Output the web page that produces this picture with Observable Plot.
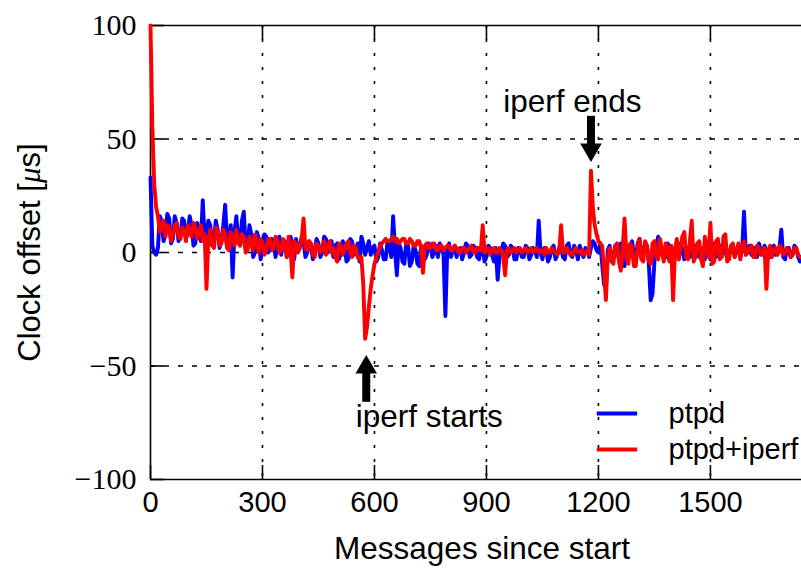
<!DOCTYPE html>
<html><head><meta charset="utf-8">
<script src="https://cdn.jsdelivr.net/npm/d3@7"></script>
<script src="https://cdn.jsdelivr.net/npm/@observablehq/plot@0.6"></script>
<style>body{margin:0;background:#fff} svg{display:block}</style>
</head><body><div id="chart"></div>
<script>
// message index step between samples
const step = 5;
// Clock offset [µs], series "ptpd" (one row = 100 messages)
const ptpd = [
 33,3,0,-1,2,16,14,5,8,17,15,4,6,16,13,5,7,15,14,6,
 9,16,12,3,4,13,10,5,23,6,8,14,12,3,6,14,10,2,5,12,
 21,6,4,12,-11,9,16,4,5,14,18,2,3,12,8,-2,0,9,6,-3,
 2,8,7,0,1,6,4,-2,3,7,-1,4,5,-2,1,7,4,-3,6,1,
 2,7,5,-2,0,5,3,-3,1,6,4,-2,0,7,6,0,2,5,-2,3,
 4,-3,0,5,3,-4,-3,6,5,-1,1,4,-4,7,4,-1,2,5,-1,2,
 3,-4,-2,4,1,-3,-3,5,4,-2,16,1,-10,4,2,-4,-5,4,3,-6,
 -4,3,1,-5,-6,3,2,-3,-1,4,3,-2,0,3,-2,4,2,-1,-28,1,
 4,-2,1,3,-2,1,2,-3,0,4,3,-2,-1,3,2,-2,-3,2,1,-4,
 -2,3,2,-1,-4,2,-12,-2,0,4,3,-2,-1,3,2,-3,-3,2,1,-2,
 -2,3,2,-3,-1,2,1,-2,14,0,-3,2,1,-4,-2,2,3,-3,-1,2,
 2,-2,-3,3,4,-1,-2,3,1,-3,3,0,-2,2,1,-2,2,5,4,1,
 0,4,-5,-14,-16,1,3,-4,-2,3,1,-3,4,-2,-6,3,2,-2,5,-1,
 -3,4,6,-2,1,4,3,-5,-21,-18,-4,3,7,-1,2,-3,-2,4,3,-2,
 -4,2,1,-3,4,1,-3,2,2,-2,-1,3,3,-1,-2,2,1,-3,2,1,
 -3,2,4,-2,0,3,-2,1,2,-3,-1,2,3,-2,1,3,-2,1,18,-1,
 0,3,-1,2,2,-2,4,1,-1,3,1,-2,-2,2,3,-1,0,2,10,-2,
 -3,2,2,-2,-1,3,2,-2,-4
];
// Clock offset [µs], series "ptpd+iperf" (one row = 100 messages)
const ptpdIperf = [
 100,55,30,20,16,9,12,14,7,12,11,5,8,12,13,7,6,11,10,5,
 12,9,7,13,11,6,9,12,5,8,-16,6,10,4,2,11,9,3,4,10,
 8,2,1,9,6,3,10,5,3,8,7,0,1,7,5,1,8,3,0,6,
 4,-1,1,6,6,1,2,7,5,0,1,6,3,-2,7,2,-11,5,4,0,
 2,6,15,2,1,5,4,-1,-2,4,3,0,1,5,-1,3,5,0,2,-2,
 -4,4,3,-1,1,4,5,0,-2,3,2,-2,-3,-2,-14,-38,-33,-24,-16,-10,
 -5,-2,0,3,4,5,6,5,5,6,7,5,6,4,5,6,6,4,4,6,
 5,3,3,5,5,2,-9,3,4,2,2,4,4,1,1,3,3,1,2,3,
 3,1,1,3,2,0,0,2,2,0,1,2,3,0,0,2,2,1,12,0,
 1,2,-1,1,2,0,0,2,1,-2,-10,1,2,0,1,2,0,1,2,0,
 1,2,0,1,2,0,1,2,0,1,1,-1,2,0,0,2,1,0,-1,1,
 12,0,0,2,1,-1,-1,1,2,0,0,1,-1,0,1,-1,36,20,12,8,
 5,4,3,-8,-21,-2,2,-3,-5,3,4,-4,-8,2,15,-2,-5,4,2,-6,
 -6,3,6,-3,-4,5,3,-4,-5,4,5,-2,-3,6,1,-4,4,2,-4,3,
 -21,1,6,-3,2,7,9,-2,-3,5,14,-4,-2,4,5,-3,-6,7,3,-2,
 13,-5,-4,5,6,-3,-2,7,8,-4,-3,3,4,-2,1,4,-3,2,5,-1,
 0,2,3,-2,-2,3,2,-1,0,2,-16,1,3,-2,1,2,-1,3,2,-1,
 0,2,1,-2,-1,2,2,-1,-2
];
const seriesNames = ["ptpd", "ptpd+iperf"];
const seriesColors = ["#0000ff", "#ff0000"];
const xDomain = [0, 1744];
const yDomain = [-100, 100];
const xTicks = [0, 300, 600, 900, 1200, 1500];
const yTicks = [-100, -50, 0, 50, 100];
const yGridTicks = [-50, 0, 50];
const xLabel = "Messages since start";
const yLabel = "Clock offset [μs]";
const annotations = [
  {label: "iperf ends", x: 1130, y: 66.5},
  {label: "iperf starts", x: 747, y: -72.5}
];
const arrows = [
  {x: 1180, y1: 60, y2: 47, head: 45.3, rotate: 180},
  {x: 578, y1: -66, y2: -53, head: -50.6, rotate: 0}
];
const legendPos = [
  {x1: 1197, x2: 1305, y: -70.9, tx: 1388},
  {x1: 1197, x2: 1305, y: -86.8, tx: 1388}
];

const rows = [ptpd, ptpdIperf].map((vals, k) =>
  vals.map((v, i) => ({x: i * step, y: v, s: seriesNames[k]})));
const legend = legendPos.map((p, k) => ({...p, name: seriesNames[k], color: seriesColors[k]}));

const sans = "'Liberation Sans', Arial, Helvetica, sans-serif";
const serif = "'Liberation Serif', 'DejaVu Serif', serif";

const chart = Plot.plot({
  width: 801, height: 572,
  marginLeft: 150, marginRight: 0, marginTop: 25, marginBottom: 93,
  style: {background: "#fff", color: "#000", fontFamily: sans},
  x: {domain: xDomain, axis: null},
  y: {domain: yDomain, axis: null},
  marks: [
    Plot.gridX(xTicks.filter(d => d > xDomain[0]), {stroke: "#000", strokeOpacity: 1, strokeWidth: 1.6, strokeDasharray: "3,11"}),
    Plot.gridY(yGridTicks, {stroke: "#000", strokeOpacity: 1, strokeWidth: 1.6, strokeDasharray: "5,9"}),
    Plot.ruleX([xDomain[0]], {stroke: "#000", strokeWidth: 1.6}),
    Plot.ruleY(yDomain, {stroke: "#000", strokeWidth: 1.6}),
    Plot.axisX(xTicks, {anchor: "bottom", tickSize: 14, dy: -14, fill: "none", strokeWidth: 1.6, label: null}),
    Plot.axisX(xTicks, {anchor: "top", tickSize: 14, dy: 14, fill: "none", strokeWidth: 1.6, label: null}),
    Plot.axisY(yTicks, {anchor: "left", tickSize: 14, dx: 14, fill: "none", strokeWidth: 1.6, label: null}),
    Plot.axisX(xTicks, {anchor: "bottom", tickSize: 0, tickPadding: 12, fontSize: 29, fontFamily: sans, label: null,
      tickFormat: d => String(d)}),
    Plot.axisY(yTicks, {anchor: "left", tickSize: 0, tickPadding: 14, fontSize: 30, fontFamily: serif, label: null,
      tickFormat: d => d < 0 ? "\u2212" + (-d) : String(d)}),
    Plot.line(rows[0], {x: "x", y: "y", stroke: seriesColors[0], strokeWidth: 3.9, strokeLinejoin: "round"}),
    Plot.line(rows[1], {x: "x", y: "y", stroke: seriesColors[1], strokeWidth: 3.9, strokeLinejoin: "round"}),
    Plot.ruleX(arrows, {x: "x", y1: "y1", y2: "y2", stroke: "#000", strokeWidth: 8}),
    Plot.dot(arrows, {x: "x", y: "head", symbol: "triangle", r: 8, fill: "#000", stroke: "none", rotate: "rotate"}),
    Plot.text(annotations, {x: "x", y: "y", text: "label", fontSize: 31.5, fontFamily: sans, fill: "#000"}),
    ...legend.map(d => Plot.ruleY([d], {x1: "x1", x2: "x2", y: "y", stroke: d.color, strokeWidth: 4})),
    Plot.text(legend, {x: "tx", y: "y", text: "name", textAnchor: "start", fontSize: 29, fontFamily: sans, fill: "#000"}),
    Plot.text([xLabel], {frameAnchor: "bottom", dy: 69, dx: 6, lineAnchor: "middle", textAnchor: "middle", fontSize: 31.5, fontFamily: sans, fill: "#000"}),
    Plot.text([yLabel], {frameAnchor: "left", dx: -120, rotate: -90, lineAnchor: "middle", textAnchor: "middle", fontSize: 31, fontFamily: sans, fill: "#000"})
  ]
});
chart.querySelectorAll("text").forEach(t => {
  if (t.textContent === yLabel) {
    const i = yLabel.indexOf("μ");
    t.textContent = "";
    t.appendChild(document.createTextNode(yLabel.slice(0, i)));
    const ts = document.createElementNS("http://www.w3.org/2000/svg", "tspan");
    ts.setAttribute("font-family", serif);
    ts.setAttribute("font-style", "italic");
    ts.textContent = "μ";
    t.appendChild(ts);
    t.appendChild(document.createTextNode(yLabel.slice(i + 1)));
  }
});
document.getElementById("chart").appendChild(chart);
</script>
</body></html>
